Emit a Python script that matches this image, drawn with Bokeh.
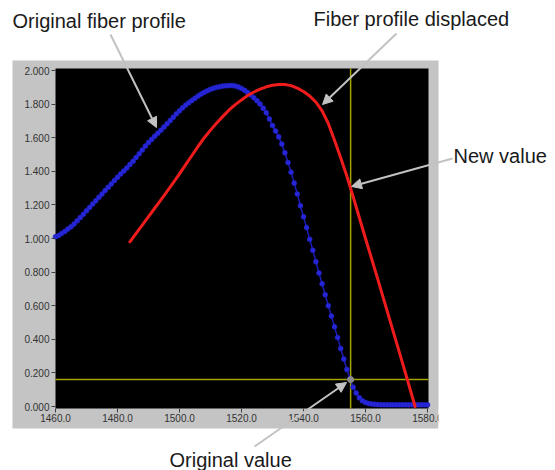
from bokeh.plotting import figure
from bokeh.models import (Range1d, FixedTicker, PrintfTickFormatter, BoxAnnotation,
                          Label, Arrow, NormalHead)
from bokeh.embed import file_html
from bokeh.resources import INLINE

# ---------------- data ----------------
# original fiber profile, one sample per nm starting at 1460
blue_y = [
    1.010, 1.018, 1.030, 1.042, 1.056, 1.070, 1.087, 1.105, 1.125, 1.145,   # 1460-1469
    1.165, 1.185, 1.205, 1.225, 1.245, 1.265, 1.285, 1.305, 1.325, 1.345,   # 1470-1479
    1.365, 1.384, 1.402, 1.420, 1.440, 1.460, 1.482, 1.505, 1.527, 1.550,   # 1480-1489
    1.571, 1.590, 1.609, 1.627, 1.645, 1.664, 1.683, 1.702, 1.722, 1.742,   # 1490-1499
    1.760, 1.778, 1.794, 1.808, 1.822, 1.835, 1.848, 1.860, 1.871, 1.880,   # 1500-1509
    1.888, 1.895, 1.900, 1.904, 1.907, 1.909, 1.910, 1.910, 1.908, 1.902,   # 1510-1519
    1.893, 1.882, 1.869, 1.854, 1.838, 1.820, 1.800, 1.776, 1.748, 1.712,   # 1520-1529
    1.672, 1.640, 1.605, 1.562, 1.510, 1.452, 1.395, 1.330, 1.265, 1.195,   # 1530-1539
    1.130, 1.065, 0.995, 0.930, 0.862, 0.795, 0.730, 0.665, 0.600, 0.538,   # 1540-1549
    0.475, 0.410, 0.345, 0.283, 0.220, 0.165, 0.115, 0.080, 0.052, 0.034,   # 1550-1559
    0.024, 0.018, 0.015, 0.013, 0.012, 0.011, 0.011, 0.010, 0.010, 0.010,   # 1560-1569
    0.010, 0.010, 0.010, 0.010, 0.010, 0.010, 0.010, 0.010, 0.010, 0.010,   # 1570-1579
    0.010,                                                                  # 1580
]
blue_x = list(range(1460, 1460 + len(blue_y)))

# displaced fiber profile, one sample every 2 nm starting at 1484
red_y = [
    0.980, 1.030, 1.080, 1.130, 1.180, 1.230, 1.280, 1.332, 1.385, 1.440,   # 1484-1502
    1.494, 1.548, 1.600, 1.645, 1.688, 1.727, 1.765, 1.797, 1.825, 1.851,   # 1504-1522
    1.872, 1.889, 1.903, 1.912, 1.917, 1.917, 1.910, 1.895, 1.875, 1.848,   # 1524-1542
    1.812, 1.760, 1.685, 1.585, 1.480, 1.370, 1.250, 1.125, 1.000, 0.878,   # 1544-1562
    0.755, 0.630, 0.505, 0.380, 0.255, 0.128, 0.000,                        # 1564-1576
]
red_x = list(range(1484, 1484 + 2 * len(red_y), 2))

x_ticks = [1460, 1480, 1500, 1520, 1540, 1560, 1580]
y_ticks = [0.0, 0.2, 0.4, 0.6, 0.8, 1.0, 1.2, 1.4, 1.6, 1.8, 2.0]

cursor_x = 1555.2
cursor_y = 0.16

txt_original_profile = "Original fiber profile"
txt_displaced = "Fiber profile displaced"
txt_new_value = "New value"
txt_original_value = "Original value"

# ---------------- layout ----------------
W, H = 555, 470
PX_X = 3.1                 # pixels per nm
PX_Y = 168.0               # pixels per unit
X0 = 1460.0                # left edge of the plot area, at image x = 55
x_start = X0 - 55 / PX_X
x_end = x_start + W / PX_X
y_top = 406 / PX_Y          # value 0 sits at image y = 406
y_bottom = y_top - H / PX_Y

# plot (black) area bounds
plot_left, plot_right = X0, X0 + (428 - 55) / PX_X
plot_bottom, plot_top = -(408 - 406) / PX_Y, (406 - 68) / PX_Y


def dx(ix):
    """image x pixel -> data x"""
    return x_start + ix / PX_X


def dy(iy):
    """image y pixel -> data y"""
    return y_top - iy / PX_Y


p = figure(width=W, height=H, x_range=Range1d(x_start, x_end), y_range=Range1d(y_bottom, y_top),
           output_backend="svg", toolbar_location=None,
           min_border_left=0, min_border_right=0, min_border_top=0, min_border_bottom=0)
p.background_fill_color = "white"
p.border_fill_color = "white"
p.outline_line_color = None
p.grid.visible = False

# grey graph panel and black plot area
PANEL = "#c4c4c4"
p.add_layout(BoxAnnotation(left=dx(12), right=dx(438), top=dy(60), bottom=dy(428),
                           fill_color=PANEL, fill_alpha=1.0, line_color=None, level="underlay"))
p.add_layout(BoxAnnotation(left=plot_left, right=plot_right, top=plot_top, bottom=plot_bottom,
                           fill_color="black", fill_alpha=1.0, line_color=None, level="underlay"))

# cursors
CUR = "#a4a400"
p.segment(x0=[cursor_x], y0=[plot_bottom], x1=[cursor_x], y1=[plot_top], line_color=CUR, line_width=1.5)
p.segment(x0=[plot_left], y0=[cursor_y], x1=[plot_right], y1=[cursor_y], line_color=CUR, line_width=1.5)

# curves
p.line(blue_x, blue_y, line_color="#1c1cb8", line_width=1.5)
p.scatter(blue_x, blue_y, size=5, fill_color="#2626d6", line_color="#2020c4", line_width=0.5)
p.line(red_x, red_y, line_color="#f01c1c", line_width=3, line_cap="round", line_join="round")
p.scatter([cursor_x], [cursor_y], size=6, fill_color="#8c8c8c", line_color="#8c8c8c")

# axes, fixed along the plot-area edges
for ax in (p.xaxis[0], p.yaxis[0]):
    ax.axis_line_color = None
    ax.major_tick_line_color = "#404040"
    ax.major_tick_in = 0
    ax.major_tick_out = 4
    ax.minor_tick_line_color = None
    ax.major_label_text_font = "Liberation Sans"
    ax.major_label_text_font_size = "10px"
    ax.major_label_text_color = "#333333"
p.xaxis.fixed_location = plot_bottom
p.yaxis.fixed_location = plot_left
p.xaxis.ticker = FixedTicker(ticks=x_ticks)
p.yaxis.ticker = FixedTicker(ticks=y_ticks)
p.xaxis.formatter = PrintfTickFormatter(format="%.1f")
p.yaxis.formatter = PrintfTickFormatter(format="%.3f")
p.xaxis.major_label_standoff = 1
p.yaxis.major_label_standoff = 2

# clip the last x label at the panel edge
p.add_layout(BoxAnnotation(left=dx(438), right=dx(480), top=dy(409), bottom=dy(432),
                           fill_color="white", fill_alpha=1.0, line_color=None, level="overlay"))

# annotation arrows
ARW = "#c2c2c2"
for (x0, y0, x1, y1) in [(110, 34, 156, 127), (396, 33, 322, 104),
                         (452, 158, 351, 186), (254, 446, 346, 382)]:
    p.add_layout(Arrow(x_start=dx(x0), y_start=dy(y0), x_end=dx(x1), y_end=dy(y1),
                       line_color=ARW, line_width=2,
                       end=NormalHead(size=10, fill_color=ARW, line_color=ARW)))

# annotation texts (y = rendered baseline position, corrected)
for (t, ix, iy) in [(txt_original_profile, 12, 20), (txt_displaced, 313, 18),
                    (txt_new_value, 453, 155), (txt_original_value, 169, 459)]:
    p.add_layout(Label(x=dx(ix), y=dy(iy), text=t, text_font="Liberation Sans",
                       text_font_size="20px", text_color="#1a1a1a",
                       text_align="left", text_baseline="alphabetic"))

open("out.html", "w").write(file_html(p, INLINE))
